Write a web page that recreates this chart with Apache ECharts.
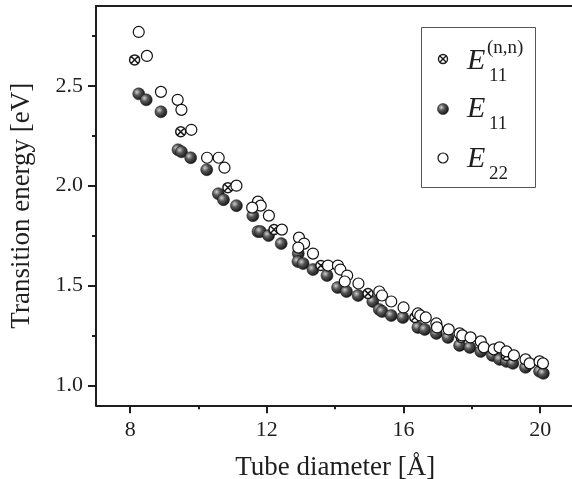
<!DOCTYPE html>
<html>
<head>
<meta charset="utf-8">
<script src="https://cdn.jsdelivr.net/npm/echarts@6/dist/echarts.min.js"></script>
<style>
html,body{margin:0;padding:0;overflow:hidden;background:#fff;}
#c{width:580px;height:479px;}
</style>
</head>
<body>
<div id="c"></div>
<script>
// E11 (n,n) armchair tubes: [diameter, energy]
const e11nn = [[8.13,2.63],[9.48,2.27],[10.86,1.99],[12.21,1.78],[13.58,1.60],[14.96,1.46],[16.33,1.34],[17.69,1.24],[19.01,1.15]];
// E11
const e11 = [[8.25,2.46],[8.47,2.43],[8.90,2.37],[9.40,2.18],[9.50,2.17],[9.77,2.14],[10.24,2.08],[10.58,1.96],[10.73,1.93],[11.11,1.90],
 [11.59,1.85],[11.74,1.77],[11.81,1.77],[12.05,1.75],[12.42,1.71],[12.92,1.66],[12.91,1.62],[13.06,1.61],[13.35,1.58],[13.76,1.55],
 [14.07,1.49],[14.33,1.47],[14.67,1.45],[15.10,1.42],[15.29,1.38],[15.37,1.37],[15.64,1.35],[15.98,1.34],[16.42,1.29],[16.62,1.28],
 [16.96,1.26],[17.30,1.24],[17.64,1.20],[17.94,1.19],[18.26,1.17],[18.60,1.15],[18.81,1.13],[19.01,1.12],[19.20,1.11],[19.57,1.09],
 [19.98,1.07],[20.09,1.06]];
// E22
const e22 = [[8.25,2.77],[8.49,2.65],[8.90,2.47],[9.39,2.43],[9.50,2.38],[9.79,2.28],[10.25,2.14],[10.59,2.14],[10.76,2.09],[11.11,2.00],
 [11.74,1.92],[11.82,1.90],[11.57,1.89],[12.06,1.85],[12.44,1.78],[12.94,1.74],[13.09,1.71],[12.92,1.69],[13.35,1.66],[13.79,1.60],
 [14.08,1.60],[14.15,1.58],[14.35,1.55],[14.28,1.52],[14.68,1.51],[15.29,1.47],[15.37,1.45],[15.64,1.42],[16.00,1.39],[16.42,1.36],
 [16.49,1.35],[16.65,1.34],[16.96,1.31],[16.98,1.29],[17.32,1.28],[17.64,1.26],[17.72,1.25],[17.96,1.24],[18.26,1.22],[18.35,1.19],
 [18.64,1.18],[18.81,1.19],[19.01,1.17],[19.23,1.15],[19.57,1.13],[19.69,1.11],[19.98,1.12],[20.08,1.11]];
const xTicks = [8,12,16,20];
const xMinor = [10,14,18];
const yTicks = [1.0,1.5,2.0,2.5];
const yMinor = [1.25,1.75,2.25,2.75];

const FONT = '"Liberation Serif","Times New Roman",serif';
const INK = '#1e1e1e';
function makeSphere(){
  return new echarts.graphic.RadialGradient(0.36, 0.36, 0.68, [{offset:0,color:'#cfcfcf'},{offset:0.4,color:'#585858'},{offset:1,color:'#101010'}]);
}
const crossPath = 'path://M0,-5A5,5 0 1,1 0,5A5,5 0 1,1 0,-5ZM-3.6,-3.6L3.6,3.6M3.6,-3.6L-3.6,3.6';

const chart = echarts.init(document.getElementById('c'), null, {renderer:'canvas'});
const lineStyle = {color:INK, width:2};
chart.setOption({
  animation:false,
  backgroundColor:'#fff',
  grid:{left:96, top:6, width:478.4, height:399.3, containLabel:false, outerBoundsMode:'none'},
  xAxis:[
    {type:'value', min:7, max:21, position:'bottom',
     axisLine:{show:true, onZero:false, lineStyle},
     axisTick:{show:true, inside:false, length:8, lineStyle:{color:INK,width:2}, customValues:xTicks},
     axisLabel:{show:true, margin:14, color:INK, fontFamily:FONT, fontSize:22, customValues:xTicks, formatter:v=>String(v)},
     splitLine:{show:false},
     name:'Tube diameter [Å]', nameLocation:'middle', nameGap:49,
     nameTextStyle:{color:INK, fontFamily:FONT, fontSize:27}},
    {type:'value', min:7, max:21, position:'bottom',
     axisLine:{show:false}, axisLabel:{show:false}, splitLine:{show:false},
     axisTick:{show:true, length:4, lineStyle:{color:INK,width:2}, customValues:xMinor}},
    {type:'value', min:7, max:21, position:'top',
     axisLine:{show:true, onZero:false, lineStyle}, axisLabel:{show:false}, axisTick:{show:false}, splitLine:{show:false}}
  ],
  yAxis:[
    {type:'value', min:0.9, max:2.9, position:'left',
     axisLine:{show:true, onZero:false, lineStyle},
     axisTick:{show:true, inside:false, length:8, lineStyle:{color:INK,width:2}, customValues:yTicks},
     axisLabel:{show:true, margin:13, color:INK, fontFamily:FONT, fontSize:22, customValues:yTicks, formatter:v=>v.toFixed(1)},
     splitLine:{show:false},
     name:'Transition energy [eV]', nameLocation:'middle', nameGap:61,
     nameTextStyle:{color:INK, fontFamily:FONT, fontSize:27}},
    {type:'value', min:0.9, max:2.9, position:'left',
     axisLine:{show:false}, axisLabel:{show:false}, splitLine:{show:false},
     axisTick:{show:true, length:4, lineStyle:{color:INK,width:2}, customValues:yMinor}},
    {type:'value', min:0.9, max:2.9, position:'right',
     axisLine:{show:true, onZero:false, lineStyle}, axisLabel:{show:false}, axisTick:{show:false}, splitLine:{show:false}}
  ],
  series:[
    {name:'E11', type:'scatter', data:e11, symbol:'circle', symbolSize:12,
     itemStyle:{color:makeSphere(), borderColor:'#111', borderWidth:0.5, opacity:1}},
    {name:'E11nn', type:'scatter', data:e11nn, symbol:crossPath, symbolSize:10,
     itemStyle:{color:'#fff', borderColor:'#1a1a1a', borderWidth:1.5, opacity:1}},
    {name:'E22', type:'scatter', data:e22, symbol:'circle', symbolSize:11,
     itemStyle:{color:'#fff', borderColor:'#111', borderWidth:1.2, opacity:1}}
  ],
  graphic:[
    {type:'rect', shape:{x:421.5, y:27.5, width:114, height:160}, style:{fill:'#fff', stroke:'#555', lineWidth:1}, z:10},
    {type:'circle', shape:{cx:443, cy:59, r:4.5}, style:{fill:'#fff', stroke:'#1a1a1a', lineWidth:1.4}, z:11},
    {type:'line', shape:{x1:439.7, y1:55.7, x2:446.3, y2:62.3}, style:{stroke:'#1a1a1a', lineWidth:1.4}, z:11},
    {type:'line', shape:{x1:446.3, y1:55.7, x2:439.7, y2:62.3}, style:{stroke:'#1a1a1a', lineWidth:1.4}, z:11},
    {type:'circle', shape:{cx:443, cy:109, r:5.5}, style:{fill:makeSphere(), stroke:'#111', lineWidth:0.5}, z:11},
    {type:'circle', shape:{cx:443, cy:158, r:5}, style:{fill:'#fff', stroke:'#111', lineWidth:1.2}, z:11},
    {type:'text', x:467, y:61, style:{text:'E', fill:INK, font:'italic 30px '+FONT, verticalAlign:'middle', align:'left'}, z:11},
    {type:'text', x:489, y:76, style:{text:'11', fill:INK, font:'19px '+FONT, verticalAlign:'middle', align:'left'}, z:11},
    {type:'text', x:487, y:48, style:{text:'(n,n)', fill:INK, font:'19px '+FONT, verticalAlign:'middle', align:'left'}, z:11},
    {type:'text', x:467, y:109, style:{text:'E', fill:INK, font:'italic 30px '+FONT, verticalAlign:'middle', align:'left'}, z:11},
    {type:'text', x:489, y:124, style:{text:'11', fill:INK, font:'19px '+FONT, verticalAlign:'middle', align:'left'}, z:11},
    {type:'text', x:467, y:159, style:{text:'E', fill:INK, font:'italic 30px '+FONT, verticalAlign:'middle', align:'left'}, z:11},
    {type:'text', x:489, y:174, style:{text:'22', fill:INK, font:'19px '+FONT, verticalAlign:'middle', align:'left'}, z:11}
  ]
});
</script>
</body>
</html>
